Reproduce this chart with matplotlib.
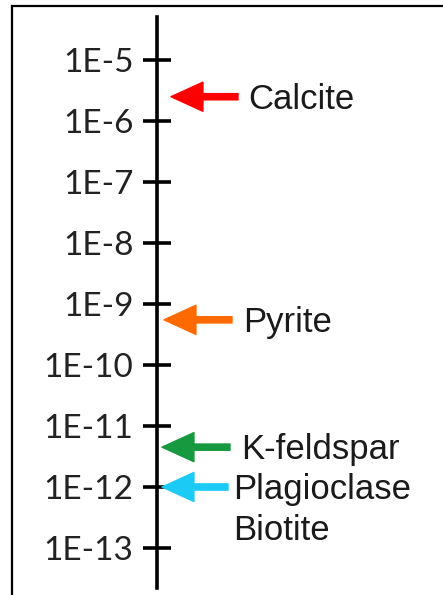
import matplotlib
matplotlib.use("Agg")
import matplotlib.pyplot as plt
from matplotlib.lines import Line2D

# rate scale (mol/m2/s), one tick per decade
tick_exps = [-5, -6, -7, -8, -9, -10, -11, -12, -13]
tick_labels = ["1E-%d" % (-e) for e in tick_exps]

# minerals and where they sit on the scale
minerals = ["Calcite", "Pyrite", "K-feldspar", "Plagioclase\nBiotite"]
rates = [2.5e-6, 5.5e-10, 4.5e-12, 1e-12]
colors = ["#ff0000", "#ff6a00", "#17993f", "#1ccbf5"]

W, H = 443, 595
fig = plt.figure(figsize=(W / 100, H / 100), dpi=100)
ax = fig.add_axes([0, 0, 1, 1])
ax.set_xlim(0, W)
ax.set_yscale("log")

# map 1E-5 -> 60 px and 1E-13 -> 548 px from top
top_px, bot_px = 60, 548
per_dec = (bot_px - top_px) / 8.0
ax.set_ylim(10 ** (-13 - (H - bot_px) / per_dec), 10 ** (-5 + top_px / per_dec))

# axis line = left spine moved to x=157
for s in ["top", "right", "bottom"]:
    ax.spines[s].set_visible(False)
ax.spines["left"].set_position(("data", 157))
ax.spines["left"].set_linewidth(2.6)
ax.spines["left"].set_bounds(10 ** (-13 - (588 - bot_px) / per_dec), 10 ** (-5 + (top_px - 17) / per_dec))
ax.set_xticks([])
ax.set_yticks([10.0 ** e for e in tick_exps])
ax.set_yticklabels(tick_labels)
ax.yaxis.set_minor_locator(matplotlib.ticker.NullLocator())
ax.tick_params(axis="y", direction="inout", length=20, width=2.6, pad=7,
               labelsize=24, labelcolor="#222222")
for lab in ax.get_yticklabels():
    lab.set_family(["Lato", "DejaVu Sans"])

# arrows pointing at the scale, labels to the right
tails = [238, 232, 230, 228]
tips = [171, 164, 162, 162]
text_x = [248, 243, 241, 233]
for name, r, c, x0, x1, tx in zip(minerals, rates, colors, tails, tips, text_x):
    ax.annotate("", xy=(x1, r), xytext=(x0, r),
                arrowprops=dict(arrowstyle="simple,head_length=2.3,head_width=2.1,tail_width=0.45",
                                mutation_scale=10, color=c, shrinkA=0, shrinkB=0))
    # one text per line so the first line sits on the arrow
    for i, line in enumerate(name.split("\n")):
        ax.annotate(line, xy=(tx, r), xytext=(0, -8.5 - 30 * i), textcoords="offset points",
                    fontsize=25, family="Liberation Sans", color="#1a1a1a",
                    va="baseline", ha="left")

# outer frame: top and left edges only
fig.add_artist(Line2D([12 / W, 1], [1 - 5.5 / H, 1 - 5.5 / H], transform=fig.transFigure,
                      color="black", lw=1.6))
fig.add_artist(Line2D([12 / W, 12 / W], [0, 1 - 5.5 / H], transform=fig.transFigure,
                      color="black", lw=1.6))

fig.savefig("out.png", dpi=100)
